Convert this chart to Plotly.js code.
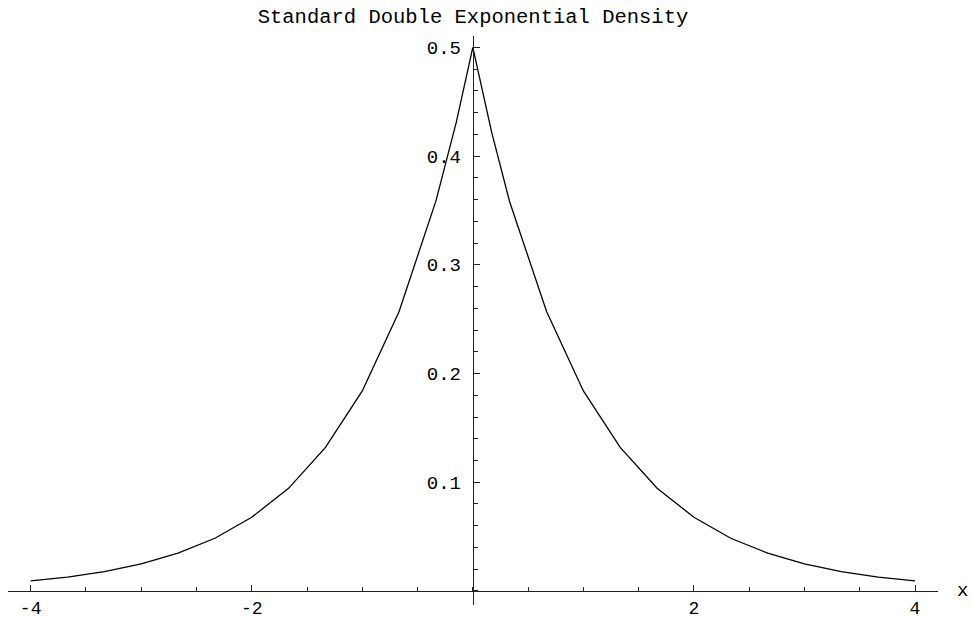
<!DOCTYPE html>
<html>
<head>
<meta charset="utf-8">
<script src="https://cdn.plot.ly/plotly-3.0.1.min.js"></script>
<style>
  html, body { margin: 0; padding: 0; background: #fff; }
  #chart { width: 971px; height: 618px; }
</style>
</head>
<body>
<div id="chart"></div>
<script>
// Sampled points of the standard double exponential (Laplace) density
const xValues = [-4, -3.667, -3.333, -3, -2.667, -2.333, -2, -1.667, -1.333, -1, -0.667, -0.333, -0.15,
                 0, 0.17, 0.333, 0.667, 1, 1.333, 1.667, 2, 2.333, 2.667, 3, 3.333, 3.667, 4];
const densityValues = [0.0092, 0.0128, 0.0178, 0.0249, 0.0348, 0.0485, 0.0678, 0.0944, 0.132, 0.184, 0.257, 0.359, 0.431,
                       0.5, 0.422, 0.358, 0.257, 0.184, 0.132, 0.0945, 0.0678, 0.0485, 0.0348, 0.0249, 0.0178, 0.0128, 0.0092];

// Axis tick labels
const xTickVals = [-4, -2, 2, 4];
const xTickText = ['-4', '-2', '2', '4'];
const yTickVals = [0.1, 0.2, 0.3, 0.4, 0.5];
const yTickText = ['0.1', '0.2', '0.3', '0.4', '0.5'];

const chartTitle = 'Standard Double Exponential Density';
const xLabel = 'x';

const mono = 'Liberation Mono, Courier New, monospace';

const xRange = [-4.205, 4.208];
const yRange = [-0.0129, 0.5104];

// place each axis line where the other variable is zero
const xAxisPos = (0 - yRange[0]) / (yRange[1] - yRange[0]);
const yAxisPos = (0 - xRange[0]) / (xRange[1] - xRange[0]);

const trace = {
  type: 'scatter',
  mode: 'lines',
  x: xValues,
  y: densityValues,
  line: { color: '#000', width: 1.3 },
  hoverinfo: 'skip'
};

const layout = {
  width: 971,
  height: 618,
  margin: { l: 8, r: 33, t: 36, b: 13 },
  paper_bgcolor: '#fff',
  plot_bgcolor: '#fff',
  showlegend: false,
  title: {
    text: chartTitle,
    font: { family: mono, size: 20.5, color: '#000' },
    xref: 'paper', x: 0.5, xanchor: 'center',
    yref: 'container', y: 1 - 16 / 618, yanchor: 'middle'
  },
  xaxis: {
    range: xRange,
    anchor: 'free',
    position: xAxisPos,
    showgrid: false,
    zeroline: false,
    showline: true,
    linecolor: '#222',
    linewidth: 1,
    tickmode: 'array',
    tickvals: xTickVals,
    ticktext: xTickText,
    ticks: 'inside',
    ticklen: 6,
    tickwidth: 1,
    tickcolor: '#222',
    tickfont: { family: mono, size: 18, color: '#000' },
    ticklabelstandoff: 0,
    minor: { tickmode: 'linear', tick0: 0, dtick: 0.5, ticks: 'inside', ticklen: 4, tickwidth: 1, tickcolor: '#222' },
    fixedrange: true
  },
  yaxis: {
    range: yRange,
    anchor: 'free',
    position: yAxisPos,
    showgrid: false,
    zeroline: false,
    showline: true,
    linecolor: '#222',
    linewidth: 1,
    tickmode: 'array',
    tickvals: yTickVals,
    ticktext: yTickText,
    ticks: 'inside',
    ticklen: 6,
    tickwidth: 1,
    tickcolor: '#222',
    tickfont: { family: mono, size: 19, color: '#000' },
    ticklabelstandoff: 8,
    minor: { tickmode: 'linear', tick0: 0, dtick: 0.02, ticks: 'inside', ticklen: 4, tickwidth: 1, tickcolor: '#222' },
    fixedrange: true
  },
  annotations: [{
    text: xLabel,
    xref: 'paper', x: (962 - 8) / 930,
    yref: 'y', y: 0,
    xanchor: 'center', yanchor: 'middle',
    showarrow: false,
    font: { family: mono, size: 19, color: '#000' }
  }]
};

Plotly.newPlot('chart', [trace], layout, { displayModeBar: false, staticPlot: true });
</script>
</body>
</html>
